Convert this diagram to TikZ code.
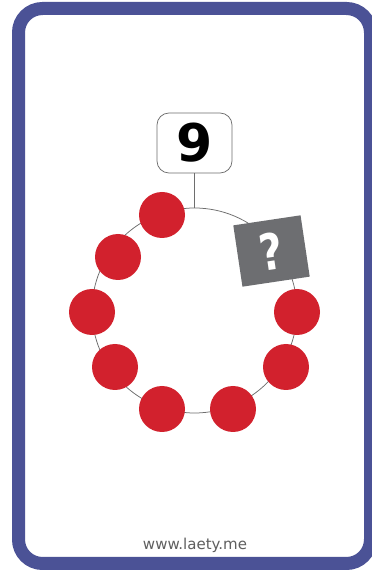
\documentclass[tikz,border=0pt]{standalone}
\usepackage{fontspec}
\usepackage{graphicx}
\setmainfont{DejaVu Sans}
\definecolor{cardblue}{RGB}{75,82,150}
\definecolor{bead}{RGB}{210,33,45}
\definecolor{qgray}{RGB}{109,110,113}
\definecolor{linegray}{RGB}{110,110,110}
\definecolor{urlgray}{RGB}{95,95,95}
\tikzset{
  beadstyle/.style={circle, fill=bead, minimum size=46pt, inner sep=0pt},
  thinline/.style={draw=linegray, line width=0.75pt},
}
\begin{document}
\begin{tikzpicture}[x=1pt,y=1pt]
\useasboundingbox (0,0) rectangle (372,574);
\fill[white] (0,0) rectangle (372,574);
% card border
\draw[cardblue, line width=13pt, rounded corners=24pt] (18.5,10.5) rectangle (370.5,565.5);
% ring
\node (ring) [circle, thinline, minimum size=205pt, inner sep=0pt] at (194.5,263.5) {};
% number box
\node (num) [thinline, rounded corners=12pt, fill=white, minimum width=75pt, minimum height=60pt, inner sep=0pt, font=\bfseries\fontsize{52}{52}\selectfont] at (194.5,431) {9};
\draw[thinline] (num.south) -- (ring.north);
% beads
\node (c1) [beadstyle] at (162,359) {};
\node (c2) [beadstyle] at (118,317) {};
\node (c3) [beadstyle] at (92,262) {};
\node (c4) [beadstyle] at (115,207) {};
\node (c5) [beadstyle] at (162,165) {};
\node (c6) [beadstyle] at (233,165) {};
\node (c7) [beadstyle] at (286,207) {};
\node (c8) [beadstyle] at (297,262) {};
% question box
\node (q) [fill=qgray, minimum width=68pt, minimum height=62pt, inner sep=0pt, rotate=8.5, text=white, font=\bfseries\fontsize{50}{50}\selectfont] at (271.5,323) {\scalebox{0.8}[1]{?}};
% url
\node (url) [text=urlgray, font=\fontsize{15}{16}\selectfont] at (195,29) {www.laety.me};
\end{tikzpicture}
\end{document}
